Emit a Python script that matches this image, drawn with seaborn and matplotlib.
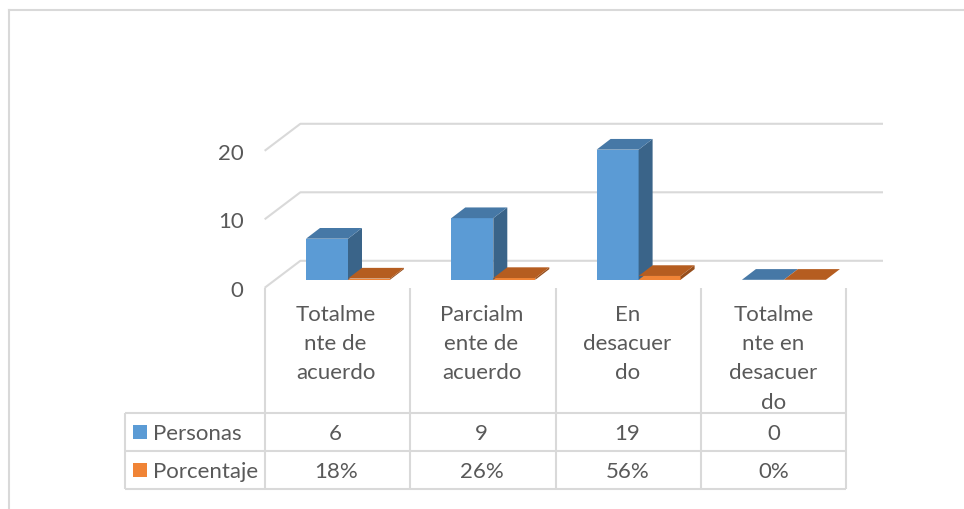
import matplotlib
matplotlib.use("Agg")
import matplotlib.pyplot as plt
from matplotlib.lines import Line2D
from matplotlib.patches import Polygon, Rectangle
import pandas as pd
import seaborn as sns

categories = ["Totalmente de acuerdo", "Parcialmente de acuerdo",
              "En desacuerdo", "Totalmente en desacuerdo"]
category_lines = [["Totalme", "nte de", "acuerdo"],
                  ["Parcialm", "ente de", "acuerdo"],
                  ["En", "desacuer", "do"],
                  ["Totalme", "nte en", "desacuer", "do"]]
personas = [6, 9, 19, 0]
porcentaje = [0.18, 0.26, 0.56, 0.0]
y_ticks = [0, 10, 20]
series_names = ["Personas", "Porcentaje"]

FRONT = {"Personas": "#5B9BD5", "Porcentaje": "#F08436"}
TOP = {"Personas": "#4678A6", "Porcentaje": "#B55D20"}
SIDE = {"Personas": "#3A6489", "Porcentaje": "#964E1C"}
GRID = "#D9D9D9"
TEXT = "#595959"
FONT = "Lato"
FS = 16

W, H = 964, 510
sns.set_theme(style="white")
plt.rcParams["font.family"] = [FONT, "DejaVu Sans"]

fig = plt.figure(figsize=(W / 100, H / 100), dpi=100, facecolor="white")

# Pixel-space layer for the outer frame and the data table
layer = fig.add_axes([0, 0, 1, 1], zorder=0)
layer.set_xlim(0, W)
layer.set_ylim(H, 0)
layer.axis("off")

# Chart axes sit on the plane of the columns' front faces
CAT_W, UNIT = 145.3, 6.85
BASE_X, BASE_Y = 348.0 - CAT_W / 2, 280.8
ax = fig.add_axes([BASE_X / W, 1 - BASE_Y / H, 4 * CAT_W / W, 20 * UNIT / H], zorder=2)
ax.patch.set_alpha(0)

df = pd.DataFrame({
    "categoria": categories * 2,
    "serie": [series_names[0]] * 4 + [series_names[1]] * 4,
    "valor": personas + porcentaje,
})
sns.barplot(data=df, x="categoria", y="valor", hue="serie", hue_order=series_names,
            palette=FRONT, width=84 / CAT_W, gap=0, dodge=True, legend=False,
            errorbar=None, saturation=1, ax=ax, zorder=3)
ax.set_xlim(-0.5, 3.5)
ax.set_ylim(0, 20)
ax.axis("off")

# Oblique depth, in pixels, of a column and of the floor around it
px_x = 1 / CAT_W
px_y = 1 / UNIT
BAR_DX, BAR_DY = 14.0 * px_x, 10.7 * px_y
FRONT_DX, FRONT_DY = -10.7 * px_x, -8.0 * px_y
BACK_DX, BACK_DY = 25.0 * px_x, 19.0 * px_y

# Side and top faces of every column
for name, container in zip(series_names, ax.containers):
    for rect in container:
        x0, w, h = rect.get_x(), rect.get_width(), rect.get_height()
        rect.set_edgecolor("none")
        x1 = x0 + w
        if h > 0:
            ax.add_patch(Polygon([(x1, 0), (x1 + BAR_DX, BAR_DY), (x1 + BAR_DX, h + BAR_DY), (x1, h)],
                                 closed=True, fc=SIDE[name], ec="none", clip_on=False, zorder=3))
        ax.add_patch(Polygon([(x0, h), (x1, h), (x1 + BAR_DX, h + BAR_DY), (x0 + BAR_DX, h + BAR_DY)],
                             closed=True, fc=TOP[name], ec="none", clip_on=False, zorder=3))

# Back-wall gridlines with their diagonal run down the side wall
right_edge = (883.0 - BASE_X) * px_x - 0.5
grid_ax_kw = dict(color=GRID, lw=1.5, clip_on=False, zorder=1, solid_capstyle="butt")
for v in y_ticks:
    ax.plot([-0.5 + FRONT_DX, -0.5 + BACK_DX, right_edge],
            [v + FRONT_DY, v + BACK_DY, v + BACK_DY], **grid_ax_kw)
    ax.text(-0.5 + FRONT_DX - 21 * px_x, v + FRONT_DY - 2.2 * px_y, str(v), ha="right", va="center",
            color=TEXT, fontsize=FS, family=[FONT, "DejaVu Sans"], clip_on=False)

# Outer frame: top and left edges only
frame_kw = dict(color=GRID, lw=1.5, solid_capstyle="projecting")
layer.add_line(Line2D([9, 9], [10.5, H], **frame_kw))
layer.add_line(Line2D([9, W], [10.5, 10.5], **frame_kw))

# Data table below the plot
col_x = [265 + CAT_W * i for i in range(5)]
TABLE_L = 125
row_y = [414, 452, 490]
line_kw = dict(color=GRID, lw=1.5, solid_capstyle="butt")
for y in row_y:
    layer.add_line(Line2D([TABLE_L, col_x[-1]], [y, y], **line_kw))
layer.add_line(Line2D([TABLE_L, TABLE_L], [row_y[0], row_y[-1]], **line_kw))
for x in col_x:
    layer.add_line(Line2D([x, x], [289, row_y[-1]], **line_kw))

# Centre of each table column's text
text_cx = [(col_x[i] + col_x[i + 1]) / 2 - 2 + 0.6 * i for i in range(4)]

line_y = [315, 344, 373, 403]
for cx, lines in zip(text_cx, category_lines):
    for y, t in zip(line_y, lines):
        layer.text(cx, y, t, ha="center", va="center", color=TEXT, fontsize=FS)

rows = [[str(v) for v in personas], [f"{v:.0%}" for v in porcentaje]]
for r, (name, labels) in enumerate(zip(series_names, rows)):
    cy = (row_y[r] + row_y[r + 1]) / 2
    layer.add_patch(Rectangle((133, cy - 7.5), 14, 14, fc=FRONT[name], ec="none"))
    layer.text(153, cy + 1, name, ha="left", va="center", color=TEXT, fontsize=FS)
    for cx, t in zip(text_cx, labels):
        layer.text(cx, cy + 1, t, ha="center", va="center", color=TEXT, fontsize=FS)

fig.savefig("out.png", dpi=100, facecolor="white")
